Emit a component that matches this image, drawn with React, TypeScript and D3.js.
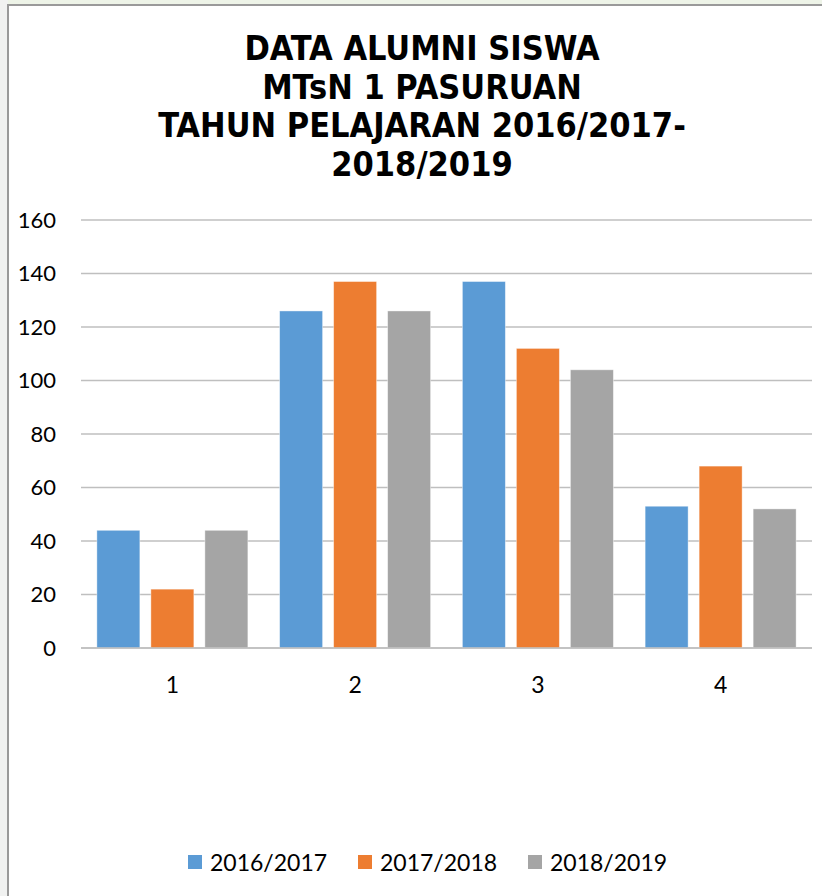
import * as d3 from 'd3'

const W = 822
const H = 896

// chart data
const CATEGORIES = ['1', '2', '3', '4']
const SERIES = ['2016/2017', '2017/2018', '2018/2019']
const VALUES_2016 = [44, 126, 137, 53]
const VALUES_2017 = [22, 137, 112, 68]
const VALUES_2018 = [44, 126, 104, 52]
const Y_TICKS = [0, 20, 40, 60, 80, 100, 120, 140, 160]
const TITLE_LINES = ['DATA ALUMNI SISWA', 'MTsN 1 PASURUAN', 'TAHUN PELAJARAN 2016/2017-', '2018/2019']

const COLORS = ['#5B9BD5', '#ED7D31', '#A5A5A5']
const SERIES_VALUES = [VALUES_2016, VALUES_2017, VALUES_2018]

const PLOT = { left: 81, right: 812, top: 220, bottom: 648 }
const LABEL_FONT = 'Lato, "Open Sans", sans-serif'

export default function App() {
  const x0 = d3.scaleBand<string>().domain(CATEGORIES).range([PLOT.left, PLOT.right]).padding(0)
  const x1 = d3.scaleBand<string>()
    .domain(SERIES)
    .range([0, x0.bandwidth()])
    .paddingInner(0.204)
    .paddingOuter(0.294)
  const y = d3.scaleLinear().domain([0, 160]).range([PLOT.bottom, PLOT.top])

  // legend layout
  const legendX = [188, 358, 528]

  return (
    <svg
      width={W}
      height={H}
      style={{ position: 'absolute', left: 0, top: 0, background: '#fff' }}
    >
      {/* backdrop outside the chart frame */}
      <rect x={0} y={0} width={W} height={5} fill="#eef4e8" />
      <rect x={0} y={0} width={8} height={H} fill="#f1f2f1" />
      <line x1={8} x2={W} y1={5} y2={5} stroke="#9a9a9a" strokeWidth={2} />
      <line x1={8} x2={8} y1={4} y2={H} stroke="#9a9a9a" strokeWidth={2} />

      {/* Title */}
      {TITLE_LINES.map((t, i) => (
        <text
          key={i}
          x={422}
          y={60 + i * 38.5}
          textAnchor="middle"
          fontFamily='"DejaVu Sans Condensed", "DejaVu Sans", sans-serif'
          fontWeight="bold"
          fontSize={34}
          fill="#000"
        >
          {t}
        </text>
      ))}

      {/* Gridlines + y tick labels */}
      {Y_TICKS.map((t) => (
        <g key={t}>
          <line
            x1={PLOT.left}
            x2={PLOT.right}
            y1={y(t)}
            y2={y(t)}
            stroke="#bfbfbf"
            strokeWidth={1.5}
          />
          <text
            x={56}
            y={y(t)}
            dy="0.36em"
            textAnchor="end"
            fontFamily={LABEL_FONT}
            fontSize={22}
            fill="#000"
          >
            {t}
          </text>
        </g>
      ))}

      {/* Bars */}
      {CATEGORIES.map((c, ci) => (
        <g key={c} transform={`translate(${x0(c)},0)`}>
          {SERIES.map((s, si) => {
            const v = SERIES_VALUES[si][ci]
            return (
              <rect
                key={s}
                x={x1(s)}
                y={y(v)}
                width={x1.bandwidth()}
                height={y(0) - y(v)}
                fill={COLORS[si]}
                stroke="#fff"
                strokeOpacity={0.5}
                strokeWidth={0.8}
              />
            )
          })}
        </g>
      ))}

      {/* baseline axis */}
      <line x1={PLOT.left} x2={PLOT.right} y1={y(0)} y2={y(0)} stroke="#bfbfbf" strokeWidth={1.5} />

      {/* x labels */}
      {CATEGORIES.map((c) => (
        <text
          key={c}
          x={(x0(c) ?? 0) + x0.bandwidth() / 2}
          y={693}
          textAnchor="middle"
          fontFamily={LABEL_FONT}
          fontSize={23}
          fill="#000"
        >
          {c}
        </text>
      ))}

      {/* Legend */}
      {SERIES.map((s, i) => (
        <g key={s}>
          <rect x={legendX[i]} y={855} width={14} height={14} fill={COLORS[i]} />
          <text
            x={legendX[i] + 22}
            y={871}
            fontFamily={LABEL_FONT}
            fontSize={23}
            fill="#000"
          >
            {s}
          </text>
        </g>
      ))}
    </svg>
  )
}
